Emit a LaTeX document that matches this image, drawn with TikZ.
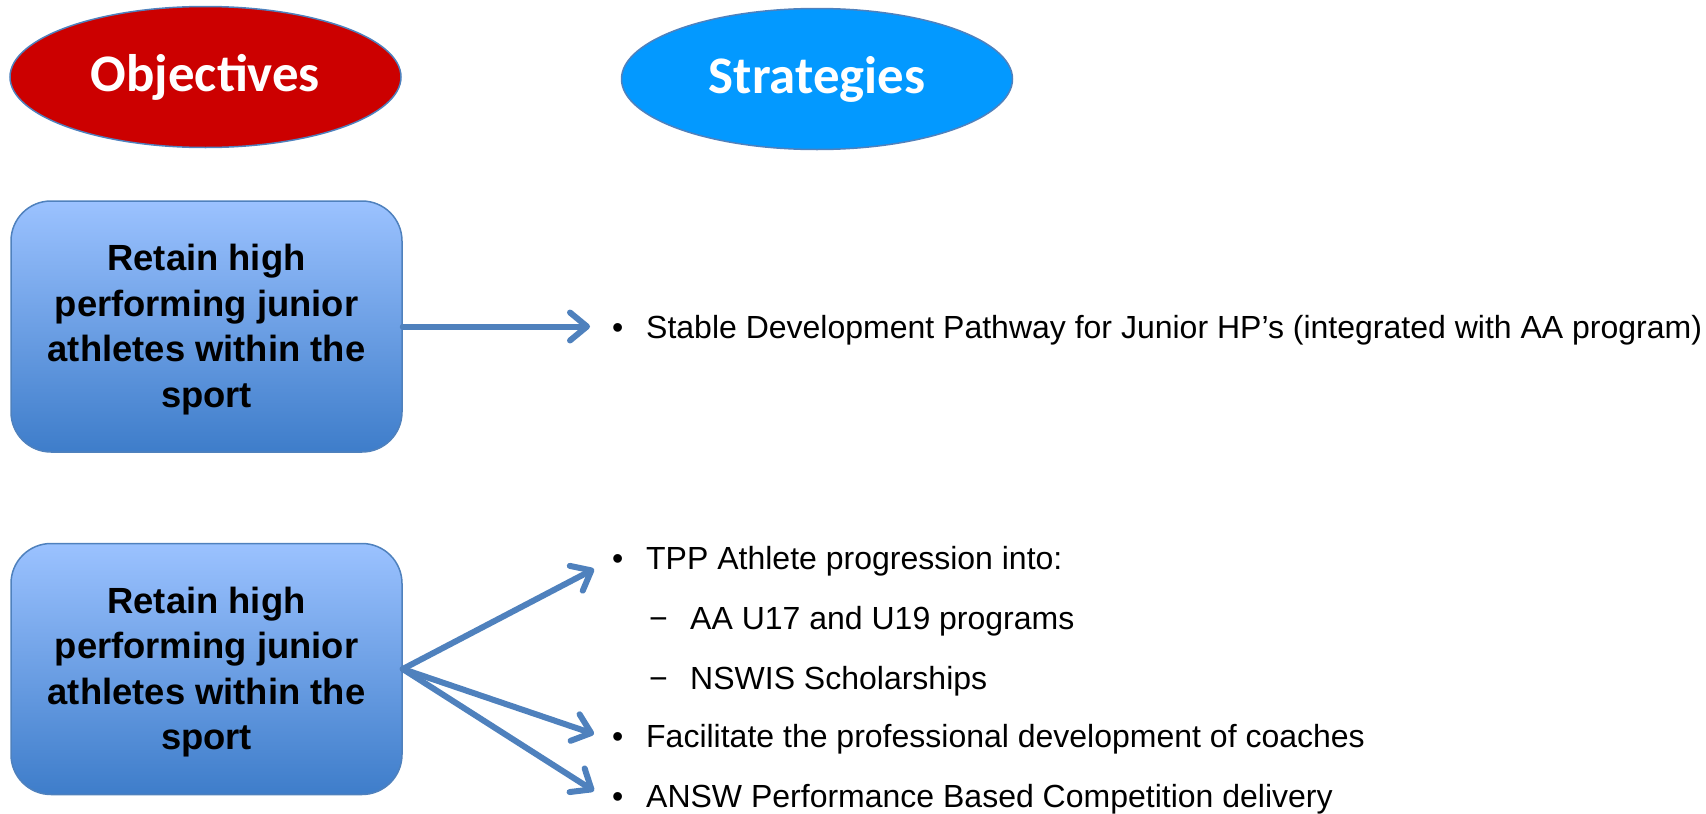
\documentclass[tikz,border=0pt]{standalone}
\usepackage{fontspec}
\setmainfont{Liberation Sans}
\newfontfamily\headfont{Carlito}
\usetikzlibrary{arrows.meta,shapes.geometric}

\definecolor{objred}{RGB}{204,0,0}
\definecolor{stratblue}{RGB}{3,153,255}
\definecolor{edgeblue}{RGB}{79,129,189}
\definecolor{boxtop}{RGB}{155,194,255}
\definecolor{boxbot}{RGB}{62,125,202}

\tikzset{
  heading/.style={ellipse, draw=edgeblue, line width=1.5pt, minimum width=391pt,
    minimum height=141pt, inner sep=0pt, text=white,
    font=\headfont\bfseries\fontsize{52.8}{60}\selectfont},
  objbox/.style={rectangle, rounded corners=40pt, draw=edgeblue, line width=1.5pt,
    top color=boxtop, bottom color=boxbot, minimum width=391pt, minimum height=251pt,
    align=center, font=\bfseries\fontsize{36.4}{45.5}\selectfont},
  item/.style={anchor=base west, inner sep=0pt, font=\fontsize{32}{38}\selectfont},
  link/.style={draw=edgeblue, line width=6pt, line cap=round,
    -{Straight Barb[length=17pt,width=28pt,round]}}
}
\newcommand{\objtext}{\rule{0pt}{33pt}Retain high\\performing junior\\athletes within the\\sport}

\begin{document}
\begin{tikzpicture}[x=1pt,y=-1pt]
  \useasboundingbox (0,0) rectangle (1706,814);
  % column headings
  \node[heading, fill=objred] (objhead) at (205.5,77) {Objectives};
  \node[heading, fill=stratblue] (strathead) at (817,79) {Strategies};
  % objectives
  \node[objbox] (obj1) at (206.5,326.5) {\objtext};
  \node[objbox] (obj2) at (206.5,669) {\objtext};
  % strategies
  \node[item] (s1) at (612,338) {\makebox[34pt][l]{•}Stable Development Pathway for Junior HP’s (integrated with AA program)};
  \node[item] (p1) at (612,569) {\makebox[34pt][l]{•}TPP Athlete progression into:};
  \node[item] (p1a) at (649,629) {\makebox[41pt][l]{−}AA U17 and U19 programs};
  \node[item] (p1b) at (649,689) {\makebox[41pt][l]{−}NSWIS Scholarships};
  \node[item] (p2) at (612,747) {\makebox[34pt][l]{•}Facilitate the professional development of coaches};
  \node[item] (p3) at (612,807) {\makebox[34pt][l]{•}ANSW Performance Based Competition delivery};
  % arrow ends, just left of the bullets
  \coordinate (s1tip) at ([xshift=-22pt,yshift=11.5pt]s1.base west);
  \coordinate (p1tip) at ([xshift=-18pt]p1.base west);
  \coordinate (p2tip) at ([xshift=-18pt,yshift=13pt]p2.base west);
  \coordinate (p3tip) at ([xshift=-18pt,yshift=16pt]p3.base west);
  % links
  \draw[link] (obj1.east) -- (s1tip);
  \draw[link] (obj2.east) -- (p1tip);
  \draw[link] (obj2.east) -- (p2tip);
  \draw[link] (obj2.east) -- (p3tip);
\end{tikzpicture}
\end{document}
